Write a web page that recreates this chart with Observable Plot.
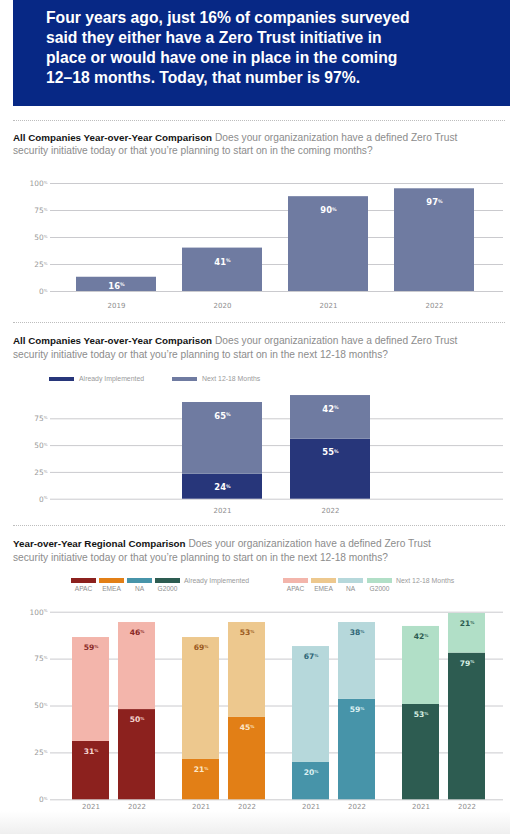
<!DOCTYPE html>
<html><head><meta charset="utf-8">
<script src="https://cdn.jsdelivr.net/npm/d3@7"></script>
<script src="https://cdn.jsdelivr.net/npm/@observablehq/plot@0.6"></script>
<style>
body{margin:0;width:510px;height:834px;position:relative;overflow:hidden;background:#fff;font-family:"Liberation Sans",Arial,sans-serif;}
#header{position:absolute;left:13px;top:0;width:497px;height:106px;background:#072885;}
#header div{position:absolute;left:33px;top:8px;color:#fff;font-weight:bold;font-size:15.7px;line-height:20px;white-space:nowrap;}
.sep{position:absolute;left:13px;width:492px;height:0;border-top:1px dotted #bdbdbd;}
.title{position:absolute;left:13px;font-size:10.2px;line-height:13.6px;color:#8c8c8c;white-space:nowrap;}
.title b{color:#141414;font-size:9.8px;}
.chart{position:absolute;left:0;}
.sw{position:absolute;}
.lt{position:absolute;font-size:6.9px;color:#9a9a9a;white-space:nowrap;line-height:8px;}
.lc{position:absolute;font-size:6.6px;color:#8e8e8e;white-space:nowrap;line-height:8px;text-align:center;width:25px;}
#fade{position:absolute;left:0;top:811px;width:510px;height:23px;background:linear-gradient(#ffffff,#efefef);}
</style>
</head><body>
<div id="header"><div>Four years ago, just 16% of companies surveyed<br>said they either have a Zero Trust initiative in<br>place or would have one in place in the coming<br>12–18 months. Today, that number is 97%.</div></div>

<div class="sep" style="top:120px"></div>
<div class="title" style="top:130.5px"><b>All Companies Year-over-Year Comparison</b> Does your organizanization have a defined Zero Trust<br>security initiative today or that you’re planning to start on in the coming months?</div>
<div class="chart" id="c1" style="top:170px"></div>

<div class="sep" style="top:322px"></div>
<div class="title" style="top:334px"><b>All Companies Year-over-Year Comparison</b> Does your organizanization have a defined Zero Trust<br>security initiative today or that you’re planning to start on in the next 12-18 months?</div>
<div id="leg2"></div>
<div class="chart" id="c2wrap" style="top:392.5px;width:510px;height:130px;overflow:hidden;"><div id="c2" style="margin-top:-12.5px"></div></div>

<div class="sep" style="top:525px"></div>
<div class="title" style="top:537px"><b>Year-over-Year Regional Comparison</b> Does your organizanization have a defined Zero Trust<br>security initiative today or that you’re planning to start on in the next 12-18 months?</div>
<div id="leg3"></div>
<div class="chart" id="c3" style="top:600px"></div>
<div id="fade"></div>

<script>
// ---------- data ----------
const years1 = ["2019", "2020", "2021", "2022"];
const labels1 = [16, 41, 90, 97];              // printed values
const drawn1 = [13.2, 40.2, 87.8, 95.1];       // bar heights as drawn

const years2 = ["2021", "2022"];
const series2 = ["Already Implemented", "Next 12-18 Months"];
const implLabels2 = [24, 55];
const nextLabels2 = [65, 42];
const implDrawn2 = [23.3, 56.0];
const totalDrawn2 = [90.2, 96.7];

const regions = ["APAC", "EMEA", "NA", "G2000"];
const years3 = ["2021", "2022"];
const impl2021 = [31, 21, 20, 53];
const next2021 = [59, 69, 67, 42];
const impl2022 = [50, 45, 59, 79];
const next2022 = [46, 53, 38, 21];
const implDrawn2021 = [31.1, 21.5, 19.9, 50.8];
const totalDrawn2021 = [86.5, 86.5, 81.7, 92.4];
const implDrawn2022 = [48.1, 43.9, 53.5, 78.2];
const totalDrawn2022 = [94.5, 94.5, 94.5, 99.3];

const yTicks = [0, 25, 50, 75, 100];
const yTicks2 = [0, 25, 50, 75];   // the 100% tick of chart 2 sits under its legend

// ---------- styles ----------
const FONT = '"DejaVu Sans", "Liberation Sans", Arial, sans-serif';
const GRID = "#cacace";
const NAVY_LIGHT = "#6f7ba1";
const NAVY_DARK = "#27367a";
const darkCol = {APAC: "#8c211e", EMEA: "#e27f16", NA: "#4794a9", G2000: "#2d5c51"};
const lightCol = {APAC: "#f3b5ab", EMEA: "#edc88e", NA: "#b6d8db", G2000: "#b1dfc7"};
const lightLabel = {APAC: "#8a2a28", EMEA: "#9a5a1e", NA: "#2e6676", G2000: "#2d5c51"};
const darkLabel = {APAC: "#f6d6d1", EMEA: "#fbe6c8", NA: "#dcf0f2", G2000: "#d6efe3"};

function supPercent(svg) {
  svg.querySelectorAll("text").forEach(t => {
    if (t.children.length === 0 && /^\d+%$/.test(t.textContent)) {
      const n = t.textContent.slice(0, -1);
      t.textContent = n;
      const ts = document.createElementNS("http://www.w3.org/2000/svg", "tspan");
      ts.setAttribute("font-size", "0.55em");
      ts.setAttribute("dy", "-0.55em");
      ts.textContent = "%";
      t.appendChild(ts);
    }
  });
  return svg;
}
const yAxis = (ticks) => Plot.axisY(ticks, {label: null, tickSize: 0, tickPadding: 3, fontSize: 7.4, fill: "#9a9a9a", tickFormat: d => d + "%"});
const xAxis = (pad) => Plot.axisX({label: null, tickSize: 0, tickPadding: pad, fontSize: 7, fill: "#8e8e8e"});

// ---------- chart 1 ----------
const d1 = years1.map((y, i) => ({year: y, h: drawn1[i], label: labels1[i]}));
const c1 = Plot.plot({
  width: 510, height: 145, marginLeft: 50, marginRight: 7, marginTop: 13, marginBottom: 24,
  style: {fontFamily: FONT, background: "transparent"},
  x: {domain: years1, range: [61.65, 488.45], paddingInner: 0.25, paddingOuter: 0.125, label: null},
  y: {domain: [0, 100], label: null},
  marks: [
    Plot.ruleY(yTicks, {stroke: GRID, strokeWidth: 1}),
    Plot.barY(d1, {x: "year", y: "h", fill: NAVY_LIGHT}),
    Plot.text(d1.filter(d => d.h >= 20), {x: "year", y: "h", dy: 14, text: d => d.label + "%", fill: "#fff", fontWeight: "bold", fontSize: 8.4}),
    Plot.text(d1.filter(d => d.h < 20), {x: "year", y: d => d.h / 2, dy: 1.5, text: d => d.label + "%", fill: "#fff", fontWeight: "bold", fontSize: 8.4}),
    yAxis(yTicks),
    xAxis(11.5)
  ]
});
document.getElementById("c1").appendChild(supPercent(c1));

// ---------- chart 2 ----------
const d2 = [];
years2.forEach((y, i) => {
  d2.push({year: y, y1: 0, y2: implDrawn2[i], label: implLabels2[i], series: series2[0]});
  d2.push({year: y, y1: implDrawn2[i], y2: totalDrawn2[i], label: nextLabels2[i], series: series2[1]});
});
const c2 = Plot.plot({
  width: 510, height: 140, marginLeft: 50, marginRight: 7, marginTop: 11.5, marginBottom: 21.3,
  style: {fontFamily: FONT, background: "transparent"},
  x: {domain: years2, range: [168, 384], paddingInner: 0.26, paddingOuter: 0.13, label: null},
  y: {domain: [0, 100], label: null},
  color: {domain: series2, range: [NAVY_DARK, NAVY_LIGHT]},
  marks: [
    Plot.ruleY(yTicks2, {stroke: GRID, strokeWidth: 1}),
    Plot.rectY(d2, {x: "year", y1: "y1", y2: "y2", fill: "series"}),
    Plot.text(d2, {x: "year", y: "y2", dy: 13.5, text: d => d.label + "%", fill: "#fff", fontWeight: "bold", fontSize: 8.4}),
    yAxis(yTicks2),
    xAxis(9)
  ]
});
document.getElementById("c2").appendChild(supPercent(c2));

// legend 2 (HTML)
(function () {
  const L = document.getElementById("leg2");
  const items = [{x: 49, c: NAVY_DARK, t: series2[0]}, {x: 172, c: NAVY_LIGHT, t: series2[1]}];
  items.forEach(it => {
    L.insertAdjacentHTML("beforeend",
      `<div class="sw" style="left:${it.x}px;top:377px;width:25px;height:4px;background:${it.c}"></div>` +
      `<div class="lt" style="left:${it.x + 30}px;top:375px">${it.t}</div>`);
  });
})();

// ---------- chart 3 ----------
const d3rows = [];
regions.forEach((r, i) => {
  d3rows.push({region: r, year: "2021", y1: 0, y2: implDrawn2021[i], label: impl2021[i], fill: darkCol[r], lab: darkLabel[r]});
  d3rows.push({region: r, year: "2021", y1: implDrawn2021[i], y2: totalDrawn2021[i], label: next2021[i], fill: lightCol[r], lab: lightLabel[r]});
  d3rows.push({region: r, year: "2022", y1: 0, y2: implDrawn2022[i], label: impl2022[i], fill: darkCol[r], lab: darkLabel[r]});
  d3rows.push({region: r, year: "2022", y1: implDrawn2022[i], y2: totalDrawn2022[i], label: next2022[i], fill: lightCol[r], lab: lightLabel[r]});
});
const OFF = 23;
const yearMarks = years3.flatMap((yr, k) => {
  const dx = k === 0 ? -OFF : OFF;
  const rows = d3rows.filter(d => d.year === yr);
  return [
    Plot.rectY(rows, {x: "region", y1: "y1", y2: "y2", fill: "fill", dx}),
    Plot.text(rows, {x: "region", y: "y2", dy: 10, dx, text: d => d.label + "%", fill: "lab", fontWeight: "bold", fontSize: 7.6}),
    Plot.text(regions, {x: d => d, frameAnchor: "bottom", dy: 9.5, dx, text: () => yr, fill: "#8e8e8e", fontSize: 7})
  ];
});
const c3 = Plot.plot({
  width: 510, height: 215, marginLeft: 50, marginRight: 7, marginTop: 11.7, marginBottom: 15.7,
  style: {fontFamily: FONT, background: "transparent"},
  x: {domain: regions, range: [57.3, 498.7], paddingInner: 0.665, paddingOuter: 0.3325, axis: null},
  y: {domain: [0, 100], label: null},
  color: {type: "identity"},
  marks: [
    Plot.ruleY(yTicks, {stroke: GRID, strokeWidth: 1}),
    ...yearMarks,
    yAxis(yTicks)
  ]
});
document.getElementById("c3").appendChild(supPercent(c3));

// legend 3 (HTML)
(function () {
  const L = document.getElementById("leg3");
  const groups = [
    {xs: [71, 99, 127, 155], cols: darkCol, t: "Already Implemented", tx: 184},
    {xs: [283, 311, 338, 367], cols: lightCol, t: "Next 12-18 Months", tx: 396}
  ];
  groups.forEach(g => {
    regions.forEach((r, i) => {
      L.insertAdjacentHTML("beforeend",
        `<div class="sw" style="left:${g.xs[i]}px;top:578px;width:25px;height:5px;background:${g.cols[r]}"></div>` +
        `<div class="lc" style="left:${g.xs[i]}px;top:585px">${r}</div>`);
    });
    L.insertAdjacentHTML("beforeend", `<div class="lt" style="left:${g.tx}px;top:576.5px">${g.t}</div>`);
  });
})();
</script>
</body></html>
